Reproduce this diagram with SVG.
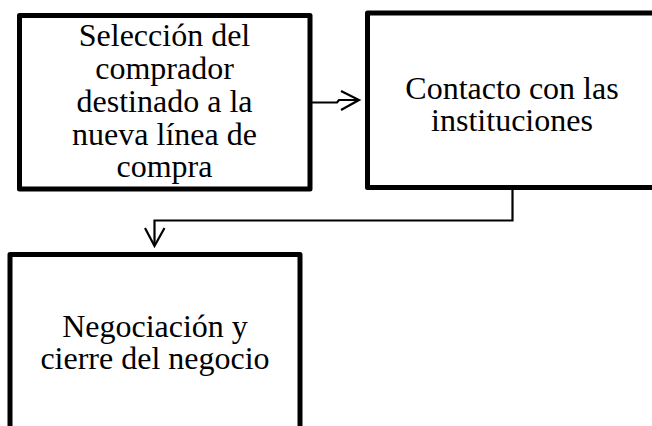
<svg xmlns="http://www.w3.org/2000/svg" width="652" height="426" viewBox="0 0 652 426">
<style>
.box{fill:#fff;stroke:#000;stroke-width:5;stroke-linejoin:round}
.t{font-family:"Liberation Serif","Times New Roman",serif;font-size:32px;fill:#000;text-anchor:middle}
.c{fill:none;stroke:#000;stroke-width:2.2}
</style>
<rect width="652" height="426" fill="#fff"/>
<g id="n1">
<rect class="box" x="19.5" y="15.5" width="290.5" height="173.5"/>
<text class="t" x="164.5" y="46">Selección del</text>
<text class="t" x="164.5" y="79">comprador</text>
<text class="t" x="164.5" y="112">destinado a la</text>
<text class="t" x="164.5" y="145">nueva línea de</text>
<text class="t" x="164.5" y="177">compra</text>
</g>
<g id="n2">
<rect class="box" x="367.5" y="13" width="300" height="174.5"/>
<text class="t" x="512" y="99">Contacto con las</text>
<text class="t" x="512" y="131">instituciones</text>
</g>
<g id="n3">
<rect class="box" x="10" y="254.5" width="290" height="200"/>
<text class="t" x="155" y="337">Negociación y</text>
<text class="t" x="155" y="369">cierre del negocio</text>
</g>
<g id="connectors">
<path class="c" d="M312,102.5 H337 L339,100 H357"/>
<polyline class="c" points="341,91 359,100 341,110"/>
<path class="c" d="M512.5,189 V220.5 H154.5 V245"/>
<polyline class="c" points="145,228 154.5,246 164.5,228"/>
</g>
</svg>
